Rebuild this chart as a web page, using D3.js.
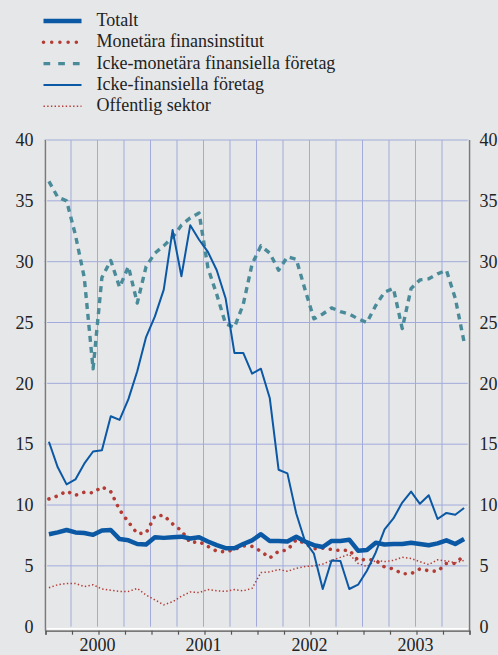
<!DOCTYPE html>
<html>
<head>
<meta charset="utf-8">
<script src="https://cdn.jsdelivr.net/npm/d3@7"></script>
<style>
  body { margin: 0; background: #e6e7e9; }
  svg { display: block; }
</style>
</head>
<body>
<div id="container"></div>
<script>
// monthly values jan 2000 - dec 2003, percent
let totalt = [7.6, 7.75, 7.95, 7.75, 7.7, 7.55, 7.9, 7.95, 7.2, 7.1, 6.8, 6.75,
  7.35, 7.3, 7.35, 7.4, 7.25, 7.35, 7.0, 6.7, 6.45, 6.45, 6.8, 7.1,
  7.6, 7.05, 7.05, 7.0, 7.4, 7.0, 6.7, 6.55, 7.05, 7.05, 7.15, 6.25,
  6.3, 6.9, 6.75, 6.8, 6.8, 6.9, 6.8, 6.7, 6.85, 7.1, 6.8, 7.2];
let monetara = [10.5, 10.75, 11.15, 10.8, 11.05, 11.0, 11.5, 11.1, 9.6, 8.6, 7.65, 7.7,
  9.1, 9.15, 8.45, 7.9, 6.9, 7.0, 6.6, 6.2, 6.15, 6.35, 6.65, 6.6,
  6.2, 5.65, 6.2, 6.3, 7.15, 6.85, 6.4, 6.45, 6.35, 6.25, 6.3, 5.45,
  5.55, 5.45, 4.9, 4.75, 4.35, 4.35, 4.75, 4.6, 4.55, 5.2, 5.2, 5.85];
let ickeMonetara = [36.6, 35.3, 35.0, 32.2, 28.7, 21.2, 28.7, 30.1, 27.9, 29.6, 26.6, 29.6,
  30.7, 31.3, 32.0, 33.0, 33.6, 34.0, 29.5, 27.3, 24.9, 24.6, 26.5, 29.8,
  31.3, 30.7, 29.3, 30.4, 30.2, 27.7, 25.3, 25.7, 26.2, 25.9, 25.7, 25.3,
  25.0, 26.4, 27.5, 27.8, 24.5, 27.8, 28.5, 28.6, 29.0, 29.3, 27.0, 23.4];
let ickeFinansiella = [15.2, 13.1, 11.7, 12.1, 13.4, 14.4, 14.5, 17.3, 17.0, 18.7, 21.0, 23.8,
  25.5, 27.7, 32.6, 28.8, 33.0, 31.8, 30.8, 29.3, 27.0, 22.5, 22.5, 20.8,
  21.2, 18.8, 12.9, 12.6, 9.3, 7.0, 6.0, 3.1, 5.45, 5.4, 3.1, 3.45,
  4.6, 6.1, 8.0, 8.9, 10.2, 11.1, 10.1, 10.8, 8.85, 9.35, 9.2, 9.75];
let offentlig = [3.2, 3.45, 3.55, 3.55, 3.3, 3.45, 3.1, 3.0, 2.9, 2.9, 3.15, 2.6,
  2.2, 1.8, 2.05, 2.5, 2.85, 2.8, 3.05, 2.95, 2.9, 3.05, 2.95, 3.15,
  4.45, 4.5, 4.7, 4.55, 4.8, 4.95, 5.0, 5.15, 5.45, 5.7, 5.95, 5.2,
  4.95, 5.45, 5.35, 5.45, 5.7, 5.6, 5.35, 5.1, 5.5, 5.4, 5.25, 5.45];

let years = ['2000', '2001', '2002', '2003'];
let yTicks = [0, 5, 10, 15, 20, 25, 30, 35, 40];

let w = 498;
let h = 655;

let blue = '#0b58a4';
let teal = '#4a8b9a';
let red = '#b33c35';
let grid = '#a2abdb';
let font = '"Liberation Serif", "Times New Roman", serif';

let series = [
  {name: 'Totalt', values: totalt, color: blue, width: 4.5, dash: null, cap: 'butt', legendDash: null},
  {name: 'Monetära finansinstitut', values: monetara, color: red, width: 3.6, dash: '0.01 7.6', cap: 'round', legendDash: '0.01 8.2'},
  {name: 'Icke-monetära finansiella företag', values: ickeMonetara, color: teal, width: 3.4, dash: '6 5', cap: 'butt', legendDash: '6.7 8'},
  {name: 'Icke-finansiella företag', values: ickeFinansiella, color: blue, width: 2, dash: null, cap: 'butt', legendDash: null},
  {name: 'Offentlig sektor', values: offentlig, color: red, width: 1.5, dash: '1.4 2.3', cap: 'butt', legendDash: '1.4 2.3'}
];

let viz = d3.select('#container').append('svg')
    .attr('width', w)
    .attr('height', h)
;

viz.append('rect')
    .attr('width', w)
    .attr('height', h)
    .attr('fill', '#e6e7e9')

// months on x, 0 = start of jan 2000
let x = d3.scaleLinear().domain([0, 48]).range([44.5, 468.5]);
let y = d3.scaleLinear().domain([0, 40]).range([626.7, 140]);

// grid
viz.append('g').selectAll('line')
    .data(d3.range(3, 48, 3))
    .join('line')
    .attr('x1', d => x(d))
    .attr('x2', d => x(d))
    .attr('y1', y(40))
    .attr('y2', y(0))
    .attr('stroke', grid)
    .attr('stroke-width', 1)

viz.append('g').selectAll('line')
    .data(yTicks.filter(d => d > 0))
    .join('line')
    .attr('x1', x(0))
    .attr('x2', x(48))
    .attr('y1', d => y(d))
    .attr('y2', d => y(d))
    .attr('stroke', grid)
    .attr('stroke-width', 1)

// axis frame
viz.append('line')
    .attr('x1', x(0) + 2.1).attr('x2', x(0) + 2.1)
    .attr('y1', y(40)).attr('y2', y(0) + 2)
    .attr('stroke', '#fff').attr('stroke-width', 1)
viz.append('line')
    .attr('x1', x(48) - 0.2).attr('x2', x(48) - 0.2)
    .attr('y1', y(40)).attr('y2', y(0) + 2)
    .attr('stroke', '#fff').attr('stroke-width', 1)
viz.append('line')
    .attr('x1', x(0)).attr('x2', x(48) + 1)
    .attr('y1', y(0) + 2).attr('y2', y(0) + 2)
    .attr('stroke', '#fff').attr('stroke-width', 1.6)

viz.append('line')
    .attr('x1', x(0) + 1).attr('x2', x(0) + 1)
    .attr('y1', y(40)).attr('y2', y(0) + 4)
    .attr('stroke', '#7b7b7b').attr('stroke-width', 1.6)
viz.append('line')
    .attr('x1', x(48) + 1).attr('x2', x(48) + 1)
    .attr('y1', y(40)).attr('y2', y(0) + 4)
    .attr('stroke', '#7b7b7b').attr('stroke-width', 1.6)

// bottom axis with quarter ticks
let xAxis = viz.append('g')
    .attr('transform', 'translate(1,' + (y(0) + 4) + ')')
    .call(d3.axisBottom(x).tickValues(d3.range(0, 49, 3)).tickSize(4).tickSizeOuter(4).tickFormat(''))
xAxis.select('.domain').attr('stroke', '#555').attr('stroke-width', 1.2)
xAxis.selectAll('.tick line').attr('stroke', '#555').attr('stroke-width', 1.2)

viz.append('g').selectAll('text')
    .data(years)
    .join('text')
    .text(d => d)
    .attr('x', (d, i) => x(i * 12 + 6))
    .attr('y', 651)
    .attr('text-anchor', 'middle')
    .attr('font-family', font)
    .attr('font-size', '18px')
    .attr('fill', '#222')

// y labels both sides
let leftAxis = viz.append('g')
    .attr('transform', 'translate(' + (x(0) + 1) + ',0)')
    .call(d3.axisLeft(y).tickValues(yTicks).tickSize(0).tickPadding(12))
leftAxis.select('.domain').remove()
leftAxis.selectAll('text').attr('font-family', font).attr('font-size', '18px').attr('fill', '#222')

let rightAxis = viz.append('g')
    .attr('transform', 'translate(' + (x(48) + 1) + ',0)')
    .call(d3.axisRight(y).tickValues(yTicks).tickSize(0).tickPadding(10))
rightAxis.select('.domain').remove()
rightAxis.selectAll('text').attr('font-family', font).attr('font-size', '18px').attr('fill', '#222')

// series
let line = d3.line()
    .x((d, i) => x(i + 0.5))
    .y(d => y(d))

let order = [4, 1, 2, 3, 0];
order.forEach(k => {
  let s = series[k];
  viz.append('path')
      .datum(s.values)
      .attr('d', line)
      .attr('fill', 'none')
      .attr('stroke', s.color)
      .attr('stroke-width', s.width)
      .attr('stroke-linecap', s.cap)
      .attr('stroke-linejoin', 'round')
      .attr('stroke-dasharray', s.dash)
});

// legend
let legend = viz.append('g').selectAll('g')
    .data(series)
    .join('g')
    .attr('transform', (d, i) => 'translate(0,' + (21 + i * 21.3) + ')')

legend.append('line')
    .attr('x1', 43.5)
    .attr('x2', 81.5)
    .attr('stroke', d => d.color)
    .attr('stroke-width', d => d.width)
    .attr('stroke-linecap', d => d.cap)
    .attr('stroke-dasharray', d => d.legendDash)

legend.append('text')
    .text(d => d.name)
    .attr('x', 96.5)
    .attr('y', 5)
    .attr('font-family', font)
    .attr('font-size', '18px')
    .attr('fill', '#222')
</script>
</body>
</html>
